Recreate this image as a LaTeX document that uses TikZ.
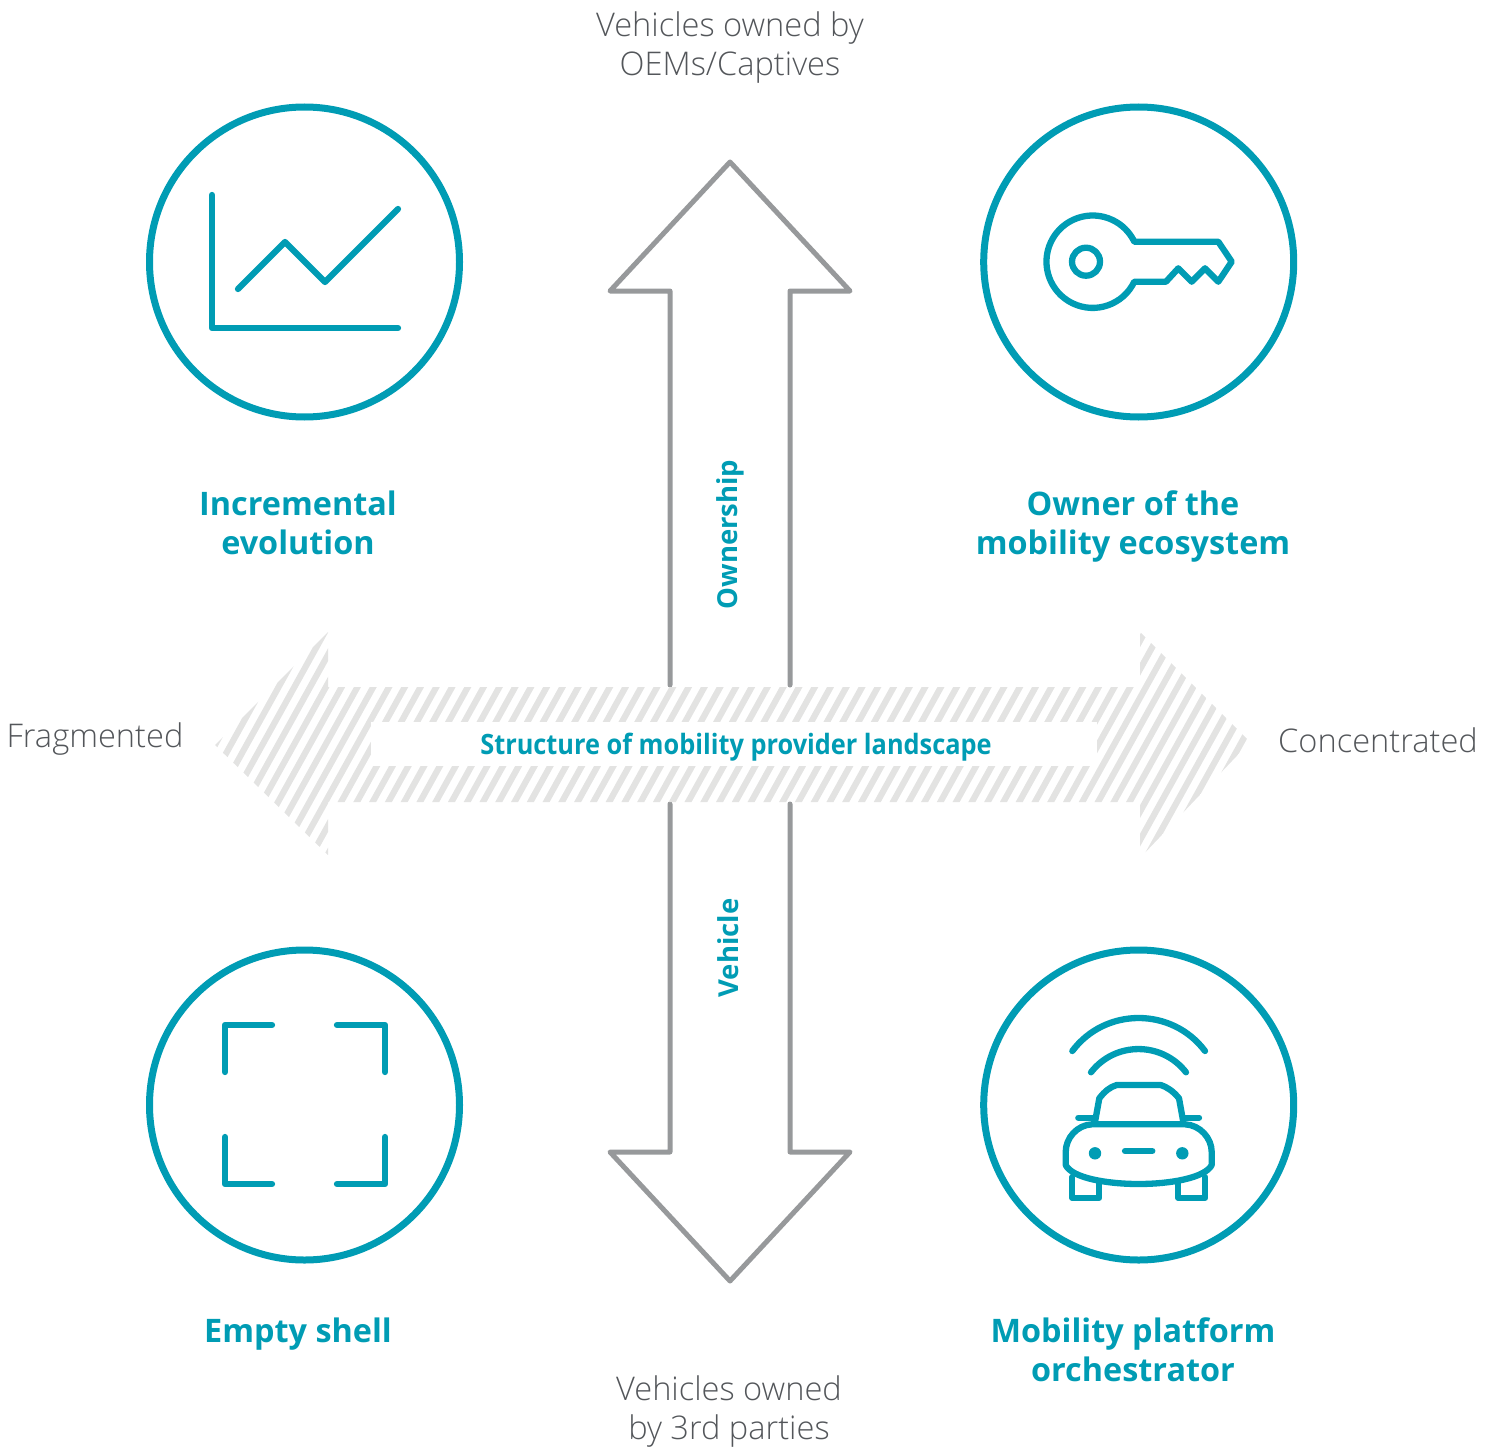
\documentclass[tikz,border=0pt]{standalone}
\usepackage{fontspec}
\setmainfont{Open Sans}
\newfontfamily\lightf{Open Sans Light}
\newfontfamily\boldf{Open Sans}[UprightFont=* Bold]
\newfontfamily\condf{Open Sans}[UprightFont=* Bold,FakeStretch=0.905]
\definecolor{teal}{HTML}{009CB4}
\definecolor{arrowgray}{HTML}{97999B}
\definecolor{hatch}{HTML}{E3E3E2}
\definecolor{txtgray}{HTML}{53565A}
\tikzset{
  ring/.style={draw=teal,line width=7pt},
  icon/.style={draw=teal,line width=6.3pt,line cap=round,line join=round},
  bigarrow/.style={draw=arrowgray,line width=5pt,line join=round,line cap=round},
  title/.style={text=teal,font=\fontsize{32.4}{39}\boldf,align=center,inner sep=0pt},
  side/.style={text=txtgray,font=\fontsize{32.6}{39}\lightf,align=center,inner sep=0pt},
  axis/.style={text=teal,font=\fontsize{27.5}{30}\boldf,inner sep=0pt,rotate=90},
}
\begin{document}
\begin{tikzpicture}[x=1pt,y=1pt,yscale=-1]
\useasboundingbox (0,0) rectangle (1496,1450);
% vertical arrows
\draw[bigarrow] (670,685) -- (670,291) -- (610,291) -- (730,162) -- (850,291) -- (790,291) -- (790,685);
\draw[bigarrow] (670,804) -- (670,1152) -- (610,1152) -- (730,1281) -- (850,1152) -- (790,1152) -- (790,804);
% hatched arrow
\begin{scope}
\clip (215,745) -- (328,632) -- (328,687) -- (1140,687) -- (1140,632) -- (1250,742) -- (1140,858) -- (1140,802) -- (328,802) -- (328,855) -- cycle;
\foreach \k in {0,...,92}{
  \draw[hatch,line width=6.2pt] ({77.1+15.77*\k},880) -- ({77.1+15.77*\k+144},620);
}
\end{scope}
\fill[white] (371,722) rectangle (1097,766);
% circles
\draw[ring] (304.5,262) circle[radius=155];
\draw[ring] (1138.7,262) circle[radius=155];
\draw[ring] (304.5,1105) circle[radius=155];
\draw[ring] (1138.7,1105) circle[radius=155];
% chart icon
\draw[icon] (212,195) -- (212,328) -- (398,328);
\draw[icon] (238,289) -- (285,242) -- (325,282) -- (398,209);
% key icon
\draw[icon] (1134.3,281.7) arc (25.65:334.35:46.2) -- (1218.3,241.7) -- (1231.7,261.7) -- (1218.3,281.7) -- (1205,268.3) -- (1191.7,281.7) -- (1178.3,268.3) -- (1166,281.7) -- cycle;
\draw[icon] (1086,261.7) circle[radius=14];
% empty shell icon
\draw[icon] (225,1072) -- (225,1025) -- (272,1025);
\draw[icon] (337,1025) -- (385,1025) -- (385,1072);
\draw[icon] (225,1137) -- (225,1184) -- (272,1184);
\draw[icon] (337,1184) -- (385,1184) -- (385,1137);
% car icon
\draw[icon] (1072.3,1051) .. controls (1105.3,1007) and (1172,1007) .. (1205,1051);
\draw[icon] (1091,1072.3) .. controls (1115,1041.3) and (1162,1041.3) .. (1186,1072.3);
\draw[icon] (1095,1122) -- (1099.3,1098.3) .. controls (1105,1091) and (1110,1087) .. (1116.7,1085) -- (1160.7,1085) .. controls (1167,1087) and (1173,1091) .. (1179,1098.3) -- (1183.3,1122);
\draw[icon] (1078.3,1117.7) -- (1093.3,1117.7);
\draw[icon] (1185,1117.7) -- (1199,1117.7);
\draw[icon] (1092,1124.3) -- (1185,1124.3) .. controls (1200,1125) and (1211.7,1138) .. (1211.7,1152) -- (1211.7,1165) .. controls (1205,1178) and (1170,1184) .. (1138.7,1184) .. controls (1107,1184) and (1072,1178) .. (1065.7,1165) -- (1065.7,1152) .. controls (1065.7,1138) and (1077,1125) .. (1092,1124.3) -- cycle;
\fill[teal] (1095,1153.3) circle[radius=6.2];
\fill[teal] (1182.3,1153.3) circle[radius=6.2];
\draw[icon] (1125,1151) -- (1152.3,1151);
\draw[icon] (1072.3,1177) -- (1072.3,1197.7) -- (1099.3,1197.7) -- (1099.3,1183);
\draw[icon] (1178.3,1183) -- (1178.3,1197.7) -- (1205.3,1197.7) -- (1205.3,1177);
% titles
\node[title] (t1) at (298,523) {Incremental\\evolution};
\node[title] (t2) at (1133,526) {Owner of the\\mobility ecosystem};
\node[title] (t3) at (298,1334) {Empty shell};
\node[title] (t4) at (1133,1350) {Mobility platform\\orchestrator};
% side labels
\node[side] (s1) at (730,47.5) {Vehicles owned by\\OEMs/Captives};
\node[side] (s2) at (729,1412) {Vehicles owned\\by 3rd parties};
\node[side] (s3) at (95,739) {Fragmented};
\node[side] (s4) at (1378,740.5) {Concentrated};
% axis labels
\node[axis] (a1) at (730,534.5) {Ownership};
\node[axis] (a2) at (728,948) {Vehicle};
\node[text=teal,font=\fontsize{28}{30}\condf,inner sep=0pt] (a3) at (736,747) {Structure of mobility provider landscape};
\end{tikzpicture}
\end{document}
